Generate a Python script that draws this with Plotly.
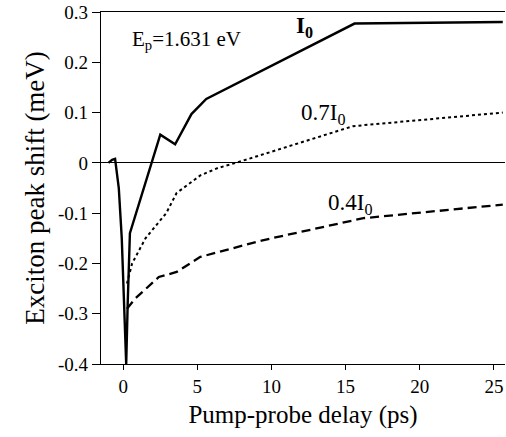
import plotly.graph_objects as go

# I0 (solid)
x_i0 = [-1.0, -0.75, -0.55, -0.45, -0.3, -0.1, 0.05, 0.2, 0.3, 0.45, 2.5, 3.5, 4.6, 5.6, 15.6, 25.6]
y_i0 = [0.0, 0.006, 0.008, -0.02, -0.05, -0.15, -0.3, -0.4, -0.28, -0.14, 0.056, 0.037, 0.097, 0.127, 0.277, 0.28]

# 0.7 I0 (dotted)
x_07 = [0.25, 0.6, 1.5, 2.9, 3.6, 5.2, 6.4, 7.6, 15.5, 25.6]
y_07 = [-0.24, -0.2, -0.15, -0.1, -0.06, -0.025, -0.01, 0.0, 0.073, 0.1]

# 0.4 I0 (dashed)
x_04 = [0.25, 0.5, 0.8, 2.4, 3.6, 5.2, 6.5, 9.4, 16.2, 25.6]
y_04 = [-0.29, -0.28, -0.27, -0.227, -0.217, -0.187, -0.177, -0.154, -0.11, -0.083]

y_tickvals = [0.3, 0.2, 0.1, 0, -0.1, -0.2, -0.3, -0.4]
y_ticktext = ["0.3", "0.2", "0.1", "0", "-0.1", "-0.2", "-0.3", "-0.4"]
x_tickvals = [0, 5, 10, 15, 20, 25]
x_ticktext = ["0", "5", "10", "15", "20", "25"]

font = "Liberation Serif, Times New Roman, serif"

fig = go.Figure()
fig.add_trace(go.Scatter(x=x_07, y=y_07, mode="lines",
                         line=dict(color="black", width=2, dash="dot")))
fig.add_trace(go.Scatter(x=x_04, y=y_04, mode="lines",
                         line=dict(color="black", width=2.3, dash="9px,5px")))
fig.add_trace(go.Scatter(x=x_i0, y=y_i0, mode="lines",
                         line=dict(color="black", width=2.4)))

fig.update_layout(
    width=506, height=437,
    margin=dict(l=101, r=1, t=12, b=73),
    paper_bgcolor="white", plot_bgcolor="white",
    showlegend=False,
    font=dict(family=font, color="black"),
    xaxis=dict(range=[-1.5, 25.75], tickvals=x_tickvals, ticktext=x_ticktext,
               showgrid=False, zeroline=False, showline=True, linecolor="black",
               linewidth=1.2, mirror=True, ticks="outside", ticklen=5,
               tickcolor="black", tickfont=dict(size=19, family=font),
               ticklabeloverflow="allow",
               title=dict(text="Pump-probe delay (ps)", font=dict(size=25, family=font),
                          standoff=9)),
    yaxis=dict(range=[-0.4, 0.3], tickvals=y_tickvals, ticktext=y_ticktext,
               showgrid=False, zeroline=True, zerolinecolor="black", zerolinewidth=1,
               showline=True, linecolor="black", linewidth=1.2,
               ticks="outside", ticklen=8, tickcolor="black",
               tickfont=dict(size=19, family=font),
               ticklabeloverflow="allow",
               title=dict(text="Exciton peak shift (meV)", font=dict(size=27, family=font),
                          standoff=5)),
)

fig.add_annotation(x=0.45, y=0.245, xanchor="left", yanchor="middle", showarrow=False,
                   text="E<sub>p</sub>=1.631 eV", font=dict(size=21, family=font))
fig.add_annotation(x=12.25, y=0.27, showarrow=False,
                   text="<b>I<sub>0</sub></b>", font=dict(size=23, family=font))
fig.add_annotation(x=13.45, y=0.097, showarrow=False,
                   text="0.7I<sub>0</sub>", font=dict(size=23, family=font))
fig.add_annotation(x=15.27, y=-0.082, showarrow=False,
                   text="0.4I<sub>0</sub>", font=dict(size=23, family=font))

fig.write_html("out.html", config={"displayModeBar": False},
               post_script="document.body.style.margin='0';")
